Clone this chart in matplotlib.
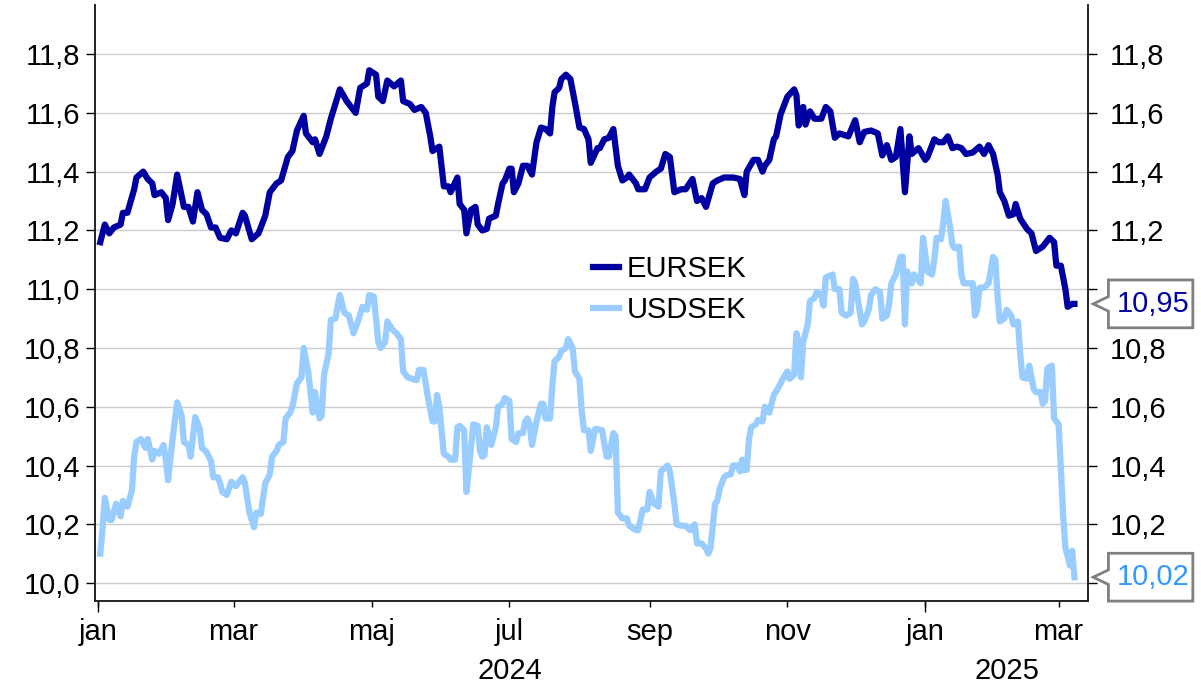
import pandas as pd
import matplotlib
matplotlib.use('Agg')
import matplotlib.pyplot as plt
import matplotlib.dates as mdates
from matplotlib.path import Path
from matplotlib.ticker import FuncFormatter

plt.rcParams['font.family'] = ['Liberation Sans', 'DejaVu Sans']

# data: days since 2024-01-01
start = pd.Timestamp('2024-01-01')

eur_day = [1, 3, 5, 7, 10, 11, 13, 16, 17, 20, 22, 24, 25, 28, 30, 31, 33, 35, 38, 40,
           42, 44, 46, 48, 50, 52, 54, 57, 59, 61, 64, 65, 68, 71, 74, 76, 79, 81, 84, 86,
           88, 91, 92, 95, 96, 98, 101, 103, 107, 110, 114, 116, 119, 120, 123, 124, 126, 128, 131, 134,
           135, 138, 140, 143, 145, 147, 148, 151, 153, 155, 156, 159, 160, 162, 163, 165, 167, 168, 170, 172,
           173, 176, 177, 179, 180, 182, 183, 184, 186, 188, 190, 192, 194, 196, 198, 200, 201, 202, 204, 205,
           207, 209, 211, 213, 215, 217, 218, 221, 222, 224, 226, 228, 230, 232, 234, 235, 238, 239, 242, 244,
           247, 249, 251, 253, 255, 258, 260, 263, 265, 267, 269, 272, 274, 277, 281, 284, 286, 287, 290, 292,
           294, 295, 297, 299, 300, 302, 304, 305, 308, 309, 310, 312, 313, 315, 317, 320, 322, 324, 326, 328,
           332, 335, 337, 339, 342, 345, 347, 349, 351, 353, 355, 357, 359, 360, 363, 366, 367, 370, 372, 374,
           376, 378, 380, 382, 384, 387, 390, 392, 394, 396, 398, 399, 401, 403, 405, 406, 408, 411, 413, 415,
           418, 421, 423, 424, 426, 428, 429, 431, 432]
eur_val = [11.16, 11.22, 11.19, 11.21, 11.22, 11.26, 11.26, 11.34, 11.38, 11.40, 11.375, 11.36, 11.32, 11.33, 11.31, 11.235, 11.29, 11.39, 11.28, 11.28,
           11.23, 11.33, 11.27, 11.255, 11.21, 11.21, 11.175, 11.17, 11.20, 11.19, 11.26, 11.25, 11.17, 11.19, 11.25, 11.33, 11.36, 11.37, 11.45, 11.47,
           11.54, 11.59, 11.53, 11.50, 11.51, 11.46, 11.52, 11.58, 11.68, 11.64, 11.60, 11.685, 11.70, 11.745, 11.73, 11.655, 11.64, 11.71, 11.69, 11.71,
           11.64, 11.63, 11.61, 11.62, 11.60, 11.52, 11.47, 11.485, 11.35, 11.35, 11.33, 11.38, 11.29, 11.27, 11.19, 11.27, 11.28, 11.22, 11.20, 11.205,
           11.24, 11.25, 11.29, 11.36, 11.37, 11.41, 11.41, 11.33, 11.36, 11.42, 11.42, 11.39, 11.50, 11.55, 11.545, 11.53, 11.62, 11.67, 11.685, 11.715,
           11.73, 11.715, 11.635, 11.55, 11.545, 11.51, 11.43, 11.48, 11.48, 11.51, 11.515, 11.545, 11.42, 11.37, 11.38, 11.39, 11.36, 11.34, 11.34, 11.38,
           11.40, 11.41, 11.46, 11.45, 11.33, 11.34, 11.34, 11.375, 11.30, 11.31, 11.28, 11.36, 11.37, 11.38, 11.38, 11.375, 11.32, 11.40, 11.44, 11.44,
           11.40, 11.42, 11.44, 11.51, 11.52, 11.595, 11.635, 11.655, 11.68, 11.66, 11.557, 11.62, 11.56, 11.605, 11.58, 11.58, 11.62, 11.605, 11.515, 11.53,
           11.52, 11.575, 11.50, 11.535, 11.54, 11.53, 11.455, 11.49, 11.44, 11.45, 11.545, 11.33, 11.52, 11.46, 11.48, 11.44, 11.45, 11.51, 11.50, 11.50,
           11.52, 11.48, 11.485, 11.48, 11.46, 11.465, 11.485, 11.46, 11.49, 11.46, 11.39, 11.33, 11.30, 11.25, 11.255, 11.29, 11.24, 11.205, 11.19, 11.13,
           11.145, 11.175, 11.16, 11.08, 11.08, 11.00, 10.94, 10.95, 10.95]

usd_day = [1, 2, 3, 5, 6, 8, 10, 11, 13, 15, 16, 17, 19, 21, 22, 24, 25, 27, 29, 30,
           31, 33, 35, 37, 38, 40, 41, 43, 45, 46, 48, 50, 51, 53, 54, 55, 57, 59, 61, 64,
           65, 67, 69, 70, 72, 74, 76, 77, 79, 80, 82, 83, 85, 86, 88, 90, 91, 93, 95, 96,
           98, 99, 100, 102, 103, 105, 107, 109, 111, 113, 115, 117, 119, 120, 122, 123, 124, 125, 127, 128,
           130, 132, 134, 135, 137, 139, 141, 142, 144, 146, 148, 149, 150, 151, 153, 155, 156, 158, 159, 160,
           162, 163, 165, 166, 168, 169, 170, 171, 172, 174, 176, 177, 179, 180, 182, 183, 185, 186, 188, 189,
           190, 191, 192, 194, 196, 197, 198, 200, 201, 202, 204, 205, 207, 208, 210, 211, 213, 214, 215, 217,
           218, 220, 223, 225, 226, 228, 229, 230, 232, 234, 235, 238, 239, 241, 243, 244, 246, 248, 249, 252,
           253, 255, 256, 258, 260, 262, 264, 265, 267, 269, 270, 271, 273, 274, 275, 277, 278, 280, 281, 283,
           284, 285, 286, 287, 288, 289, 291, 292, 294, 295, 297, 299, 301, 303, 305, 306, 308, 309, 310, 311,
           312, 314, 315, 317, 318, 320, 321, 322, 325, 326, 328, 329, 331, 333, 334, 335, 338, 339, 341, 342,
           344, 346, 347, 349, 350, 351, 353, 355, 356, 357, 358, 360, 361, 364, 365, 366, 367, 369, 370, 371,
           373, 374, 375, 377, 378, 379, 381, 382, 383, 385, 387, 388, 389, 390, 392, 394, 396, 397, 398, 399,
           401, 402, 404, 405, 407, 408, 409, 411, 412, 414, 415, 417, 418, 419, 420, 422, 423, 425, 426, 427,
           428, 430, 431, 432]
usd_val = [10.10, 10.185, 10.29, 10.215, 10.215, 10.27, 10.227, 10.28, 10.26, 10.315, 10.43, 10.48, 10.49, 10.46, 10.49, 10.42, 10.45, 10.44, 10.47, 10.42,
           10.35, 10.49, 10.615, 10.57, 10.48, 10.47, 10.43, 10.565, 10.525, 10.46, 10.446, 10.415, 10.36, 10.36, 10.34, 10.31, 10.30, 10.345, 10.33, 10.36,
           10.34, 10.24, 10.19, 10.24, 10.235, 10.34, 10.37, 10.43, 10.45, 10.47, 10.48, 10.56, 10.58, 10.60, 10.68, 10.70, 10.80, 10.72, 10.58, 10.65,
           10.56, 10.57, 10.71, 10.78, 10.895, 10.90, 10.98, 10.92, 10.91, 10.85, 10.89, 10.94, 10.93, 10.98, 10.975, 10.90, 10.82, 10.80, 10.82, 10.89,
           10.865, 10.85, 10.83, 10.72, 10.70, 10.695, 10.69, 10.725, 10.725, 10.63, 10.55, 10.55, 10.64, 10.60, 10.44, 10.43, 10.42, 10.42, 10.53, 10.535,
           10.52, 10.31, 10.46, 10.54, 10.535, 10.45, 10.43, 10.435, 10.53, 10.47, 10.53, 10.60, 10.61, 10.63, 10.62, 10.49, 10.48, 10.51, 10.51, 10.55,
           10.56, 10.54, 10.47, 10.55, 10.61, 10.61, 10.56, 10.56, 10.67, 10.755, 10.77, 10.79, 10.80, 10.83, 10.80, 10.72, 10.695, 10.585, 10.52, 10.52,
           10.45, 10.525, 10.52, 10.43, 10.43, 10.51, 10.50, 10.24, 10.22, 10.22, 10.195, 10.18, 10.18, 10.25, 10.25, 10.31, 10.27, 10.26, 10.38, 10.40,
           10.38, 10.27, 10.20, 10.195, 10.195, 10.18, 10.20, 10.135, 10.135, 10.118, 10.10, 10.12, 10.27, 10.28, 10.32, 10.36, 10.367, 10.37, 10.40, 10.40,
           10.38, 10.42, 10.385, 10.385, 10.49, 10.53, 10.54, 10.555, 10.55, 10.60, 10.58, 10.64, 10.665, 10.695, 10.72, 10.695, 10.71, 10.85, 10.82, 10.70,
           10.82, 10.88, 10.96, 10.97, 10.99, 10.98, 10.944, 11.04, 11.05, 11.00, 11.00, 10.92, 10.91, 10.92, 11.035, 11.02, 10.88, 10.89, 10.93, 10.98,
           11.00, 10.99, 10.90, 10.91, 10.95, 11.02, 11.05, 11.11, 11.11, 10.88, 11.06, 11.02, 11.05, 11.02, 11.175, 11.12, 11.06, 11.05, 11.10, 11.175,
           11.17, 11.23, 11.30, 11.21, 11.15, 11.14, 11.145, 11.05, 11.02, 11.02, 11.02, 10.91, 10.93, 11.005, 11.005, 11.02, 11.11, 11.10, 10.975, 10.89,
           10.90, 10.93, 10.91, 10.88, 10.89, 10.78, 10.70, 10.695, 10.74, 10.66, 10.65, 10.65, 10.61, 10.62, 10.73, 10.74, 10.56, 10.54, 10.39, 10.23,
           10.12, 10.06, 10.11, 10.02]

month_ticks = ['2024-01-01', '2024-03-01', '2024-05-01', '2024-07-01',
               '2024-09-01', '2024-11-01', '2025-01-01', '2025-03-01']
month_labels = ['jan', 'mar', 'maj', 'jul', 'sep', 'nov', 'jan', 'mar']
year_starts = ['2024-01-01', '2025-01-01']
year_labels = ['2024', '2025']
yticks = [10.0, 10.2, 10.4, 10.6, 10.8, 11.0, 11.2, 11.4, 11.6, 11.8]

eur_col = '#0000a0'
usd_col = '#99ccff'

eur_dates = start + pd.to_timedelta(eur_day, unit='D')
usd_dates = start + pd.to_timedelta(usd_day, unit='D')

fig = plt.figure(figsize=(12.01, 6.87), dpi=100)
ax = fig.add_axes([95 / 1201, 1 - 601 / 687, (1088 - 95) / 1201, (601 - 5) / 687])

ax.plot(eur_dates, eur_val, color=eur_col, lw=4.5, label='EURSEK')
ax.plot(usd_dates, usd_val, color=usd_col, lw=4.5, label='USDSEK')

x0 = start - pd.Timedelta(hours=32)
x1 = pd.Timestamp('2025-03-14')
ax.set_xlim(x0, x1)
ax.set_ylim(9.939, 11.967)

comma = FuncFormatter(lambda v, p: f'{v:.1f}'.replace('.', ','))
ax.set_yticks(yticks)
ax.yaxis.set_major_formatter(comma)
ax.yaxis.grid(True, color='#cccccc', lw=1)
ax.set_axisbelow(True)

ax.set_xticks(pd.to_datetime(month_ticks))
ax.set_xticklabels(month_labels)
ax.set_xticks(pd.to_datetime(year_starts), minor=True)
ax.xaxis.remove_overlapping_locs = False
ax.tick_params(axis='x', which='major', length=4, width=1, pad=8, labelsize=21)
ax.tick_params(axis='x', which='minor', length=8, width=1)
ax.tick_params(axis='y', length=6.5, width=1, pad=4, labelsize=21)

for s in ['left', 'right', 'bottom']:
    ax.spines[s].set_linewidth(1.2)
    ax.spines[s].set_color('#222222')
ax.spines['top'].set_visible(False)

# year labels centred under each year's visible span
bounds = [mdates.date2num(x0)] + [mdates.date2num(pd.Timestamp(d)) for d in year_starts[1:]] + [mdates.date2num(x1)]
for i, yl in enumerate(year_labels):
    mid = (bounds[i] + bounds[i + 1]) / 2
    ax.text(mid, -0.117, yl, transform=ax.get_xaxis_transform(),
            ha='center', va='center', fontsize=21)

ax2 = ax.twinx()
ax2.set_ylim(ax.get_ylim())
ax2.set_yticks(yticks)
ax2.yaxis.set_major_formatter(comma)
ax2.tick_params(axis='y', length=6.5, width=1, pad=9, labelsize=21)
ax2.spines['top'].set_visible(False)
for s in ['left', 'right', 'bottom']:
    ax2.spines[s].set_linewidth(1.2)
    ax2.spines[s].set_color('#222222')

ax.legend(loc='center left', bbox_to_anchor=(0.5015, 0.5227), frameon=False,
          fontsize=21, handlelength=0.9, handletextpad=0.25, labelspacing=0.45,
          borderpad=0, borderaxespad=0)


def callout(x0, y0, width, height, mutation_size):
    m = mutation_size
    left, right = x0 - 0.3 * m, x0 + width + 0.1 * m
    bottom, top = y0 - 0.34 * m, y0 + height + 0.34 * m
    mid = (bottom + top) / 2
    nh = 0.25 * m
    tip = left - 0.52 * m
    verts = [(left, top), (right, top), (right, bottom), (left, bottom),
             (left, mid - nh), (tip, mid), (left, mid + nh), (left, top)]
    return Path(verts, closed=True)


for val, tcol in [(eur_val[-1], eur_col), (usd_val[-1], '#3399ff')]:
    ax2.annotate(f'{val:.2f}'.replace('.', ','), xy=(1, val),
                 xycoords=('axes fraction', 'data'), xytext=(21, 0),
                 textcoords='offset points', ha='left', va='center',
                 fontsize=21, color=tcol, annotation_clip=False,
                 bbox=dict(boxstyle=callout, fc='white', ec='#808080', lw=2))

fig.savefig('out.png', dpi=100)
